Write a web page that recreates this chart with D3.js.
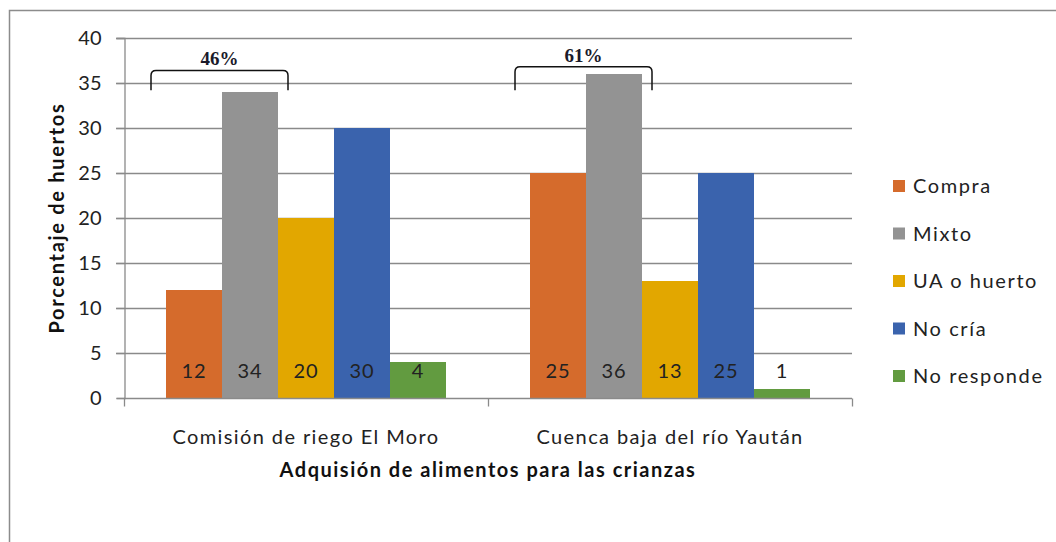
<!DOCTYPE html>
<html>
<head>
<meta charset="utf-8">
<script src="https://cdn.jsdelivr.net/npm/d3@7"></script>
<style>
  html, body { margin: 0; padding: 0; background: #fff; }
  svg { display: block; }
</style>
</head>
<body>
<svg id="chart" width="1056" height="542"></svg>
<script>
// datos
const categories = ["Comisión de riego El Moro", "Cuenca baja del río Yaután"];
const seriesNames = ["Compra", "Mixto", "UA o huerto", "No cría", "No responde"];
const seriesColors = ["#D56B2C", "#939393", "#E2A700", "#3A63AD", "#629B40"];
const valuesMoro = [12, 34, 20, 30, 4];
const valuesYautan = [25, 36, 13, 25, 1];
const yTicks = [0, 5, 10, 15, 20, 25, 30, 35, 40];
const bracketLabels = ["46%", "61%"];
const bracketValues = [36.4, 36.8]; // altura del corchete en unidades del eje

const yLabel = "Porcentaje de huertos";
const xLabel = "Adquisión de alimentos para las crianzas";

const font = "Lato, 'Open Sans', sans-serif";

const svg = d3.select("#chart");

// borde del gráfico
svg.append("rect")
    .attr("x", 9.5).attr("y", 10.5)
    .attr("width", 1100).attr("height", 600)
    .attr("fill", "none")
    .attr("stroke", "#8c8c8c")
    .attr("stroke-width", 1.5);

const plot = { left: 124, right: 852, top: 38, bottom: 398 };

const x0 = d3.scaleBand()
    .domain(categories)
    .range([plot.left, plot.right])
    .paddingInner(0)
    .paddingOuter(0);

const x1 = d3.scaleBand()
    .domain(seriesNames)
    .range([0, x0.bandwidth()])
    .paddingOuter(0.75)
    .paddingInner(0);

const y = d3.scaleLinear()
    .domain([0, 40])
    .range([plot.bottom, plot.top]);

const color = d3.scaleOrdinal().domain(seriesNames).range(seriesColors);

// rejilla
svg.append("g")
    .selectAll("line")
    .data(yTicks.filter(d => d > 0))
    .enter().append("line")
    .attr("x1", plot.left - 8)
    .attr("x2", plot.right)
    .attr("y1", d => Math.round(y(d)) + 0.5)
    .attr("y2", d => Math.round(y(d)) + 0.5)
    .attr("stroke", "#8a8a8a")
    .attr("stroke-width", 1.3);

// barras
const table = categories.map((c, i) => ({
    cat: c,
    values: seriesNames.map((s, j) => ({ key: s, value: (i === 0 ? valuesMoro : valuesYautan)[j] }))
}));

const groups = svg.append("g")
    .selectAll("g")
    .data(table)
    .enter().append("g")
    .attr("transform", d => `translate(${x0(d.cat)},0)`);

groups.selectAll("rect")
    .data(d => d.values)
    .enter().append("rect")
    .attr("x", d => x1(d.key))
    .attr("width", x1.bandwidth())
    .attr("y", d => y(d.value))
    .attr("height", d => y(0) - y(d.value))
    .attr("fill", d => color(d.key));

groups.selectAll("text")
    .data(d => d.values)
    .enter().append("text")
    .attr("x", d => x1(d.key) + x1.bandwidth() / 2)
    .attr("y", y(2.2))
    .attr("text-anchor", "middle")
    .attr("font-family", font)
    .attr("font-size", 20)
    .attr("letter-spacing", 1)
    .attr("fill", "#222")
    .text(d => d.value);

// eje y
const yAxis = svg.append("g")
    .attr("transform", `translate(${plot.left + 0.5},0)`)
    .call(d3.axisLeft(y).tickValues(yTicks).tickSize(8).tickPadding(15));
yAxis.select(".domain").attr("stroke", "#8a8a8a").attr("stroke-width", 1.3);
yAxis.selectAll(".tick line").attr("stroke", "#8a8a8a").attr("stroke-width", 1.3);
yAxis.selectAll("text")
    .attr("font-family", font)
    .attr("font-size", 20)
    .attr("fill", "#222");

// eje x
const xAxis = svg.append("g")
    .attr("transform", `translate(0,${plot.bottom + 0.5})`)
    .call(d3.axisBottom(x0).tickSize(0).tickPadding(31));
xAxis.select(".domain").remove();
xAxis.append("line")
    .attr("x1", plot.left).attr("x2", plot.right)
    .attr("stroke", "#8a8a8a").attr("stroke-width", 1.3);
xAxis.selectAll(".sep")
    .data([plot.left, plot.left + x0.bandwidth(), plot.right])
    .enter().append("line")
    .attr("class", "sep")
    .attr("x1", d => d + 0.5).attr("x2", d => d + 0.5)
    .attr("y1", 0).attr("y2", 8)
    .attr("stroke", "#8a8a8a").attr("stroke-width", 1.3);
xAxis.selectAll(".tick text")
    .attr("font-family", font)
    .attr("font-size", 20)
    .attr("letter-spacing", 1.4)
    .attr("fill", "#222");

// títulos de ejes
svg.append("text")
    .attr("transform", `translate(64,${(plot.top + plot.bottom) / 2}) rotate(-90)`)
    .attr("text-anchor", "middle")
    .attr("font-family", font)
    .attr("font-size", 20)
    .attr("font-weight", "bold")
    .attr("letter-spacing", 1.7)
    .attr("fill", "#111")
    .text(yLabel);

svg.append("text")
    .attr("x", (plot.left + plot.right) / 2)
    .attr("y", 477)
    .attr("text-anchor", "middle")
    .attr("font-family", font)
    .attr("font-size", 20)
    .attr("font-weight", "bold")
    .attr("letter-spacing", 1.5)
    .attr("fill", "#111")
    .text(xLabel);

// corchetes (Compra + Mixto)
categories.forEach((c, i) => {
    const xa = x0(c) + x1("Compra") - 15;
    const xb = x0(c) + x1("Mixto") + x1.bandwidth() + 10;
    const yt = y(bracketValues[i]);
    const g = svg.append("g");
    g.append("path")
        .attr("d", `M${xa},${y(34.2)} L${xa},${yt + 5} Q${xa},${yt} ${xa + 5},${yt} L${xb - 5},${yt} Q${xb},${yt} ${xb},${yt + 5} L${xb},${y(34.2)}`)
        .attr("fill", "none")
        .attr("stroke", "#111")
        .attr("stroke-width", 1.5);
    g.append("text")
        .attr("x", (xa + xb) / 2)
        .attr("y", yt - 5)
        .attr("text-anchor", "middle")
        .attr("font-family", "'Liberation Serif', 'DejaVu Serif', serif")
        .attr("font-size", 19)
        .attr("font-weight", "bold")
        .attr("fill", "#1a1a2a")
        .text(bracketLabels[i]);
});

// leyenda
const legend = svg.append("g")
    .selectAll("g")
    .data(seriesNames)
    .enter().append("g")
    .attr("transform", (d, i) => `translate(893,${186 + i * 47.5})`);

legend.append("rect")
    .attr("x", 0).attr("y", -6)
    .attr("width", 12).attr("height", 12)
    .attr("fill", d => color(d));

legend.append("text")
    .attr("x", 20)
    .attr("y", 0)
    .attr("dy", "0.35em")
    .attr("font-family", font)
    .attr("font-size", 20)
    .attr("letter-spacing", 1.6)
    .attr("fill", "#222")
    .text(d => d);
</script>
</body>
</html>
